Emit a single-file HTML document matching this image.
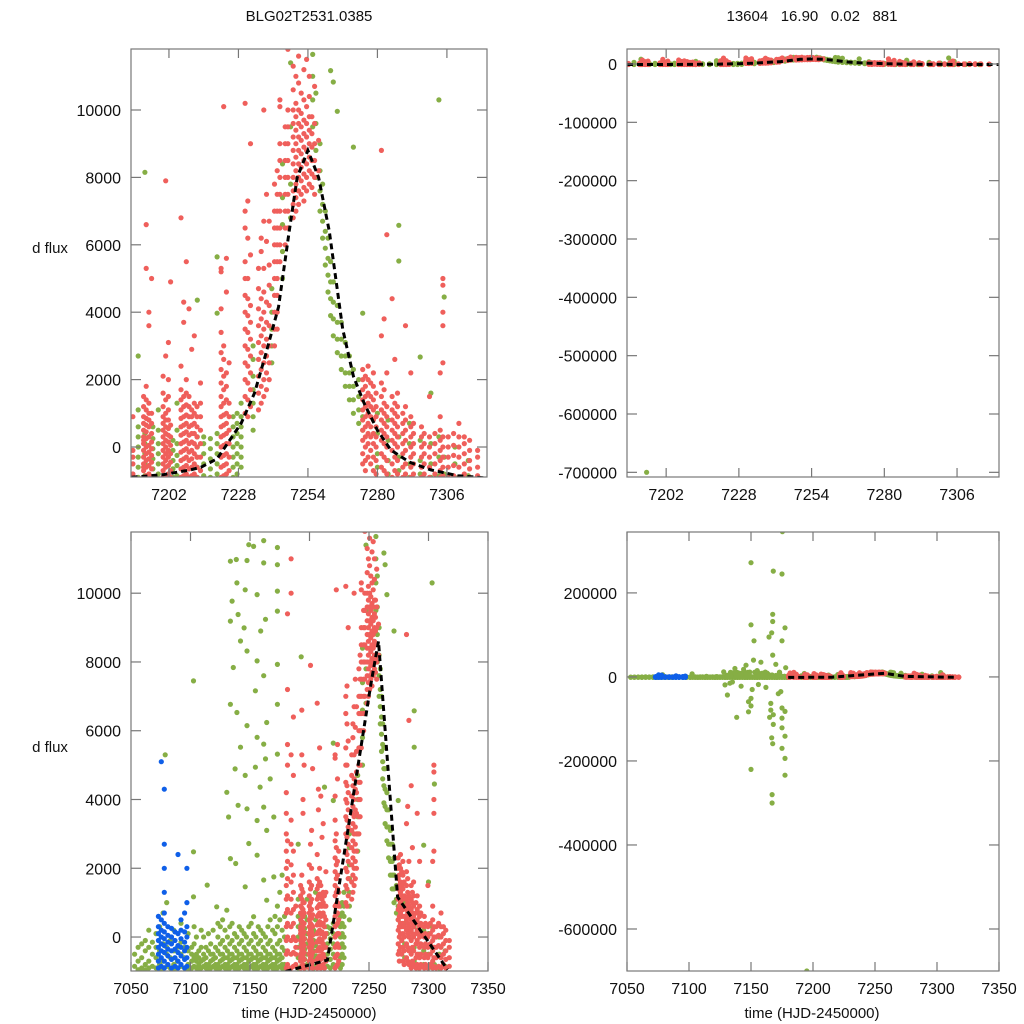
<!DOCTYPE html>
<html><head><meta charset="utf-8"><style>
html,body{margin:0;padding:0;background:#fff;}
svg{display:block;font-family:"Liberation Sans",Arial,sans-serif;}
</style></head><body>
<svg id="chart" width="1024" height="1024" viewBox="0 0 1024 1024" xmlns="http://www.w3.org/2000/svg">
<rect width="1024" height="1024" fill="#fff"/>
<text x="309" y="21" font-size="15" text-anchor="middle" fill="#111">BLG02T2531.0385</text>
<text x="812" y="21" font-size="15" text-anchor="middle" fill="#111" xml:space="preserve">13604   16.90   0.02   881</text>
<text x="50" y="253" font-size="15" text-anchor="middle" fill="#111">d flux</text>
<text x="50" y="752" font-size="15" text-anchor="middle" fill="#111">d flux</text>
<text x="309" y="1018" font-size="15" text-anchor="middle" fill="#111">time (HJD-2450000)</text>
<text x="812" y="1018" font-size="15" text-anchor="middle" fill="#111">time (HJD-2450000)</text>
<g id="panels"></g>
</svg>
<script>
// ---- data (time, flux values per observing night) ----
const redCols = [
[7180.5,-900,-500,-100,300,700,1100,1500,2000,2500,3000,3600,4200],
[7181.5,-800,-400,0,400,800,1200,1700,2200,2800,5000,5600,7200,9400],
[7184.5,-900,-500,-100,300,700,1100,1600,2100,2700,3400,5300,11000,10000],
[7186.5,-850,-450,0,400,800,1300,1800,2500,4700,6400],
[7188.5,-300,900,-100,-500,-800],
[7192.5,-900,-700,-500,-300,-100,100,300,500,700,900,1200,1500,-600,200],
[7193.5,-850,-600,-400,-200,0,250,450,650,850,1100,1400,1800,5300,6600],
[7194.5,-800,-550,-350,-150,50,300,600,800,1000,1300,3600,4000],
[7195.5,-900,-650,-450,-250,-50,150,400,700,1000,5000],
[7199.8,-900,-700,-500,-300,-100,100,300,500,700,900,1200,1600,2100],
[7200.8,-850,-600,-400,-200,0,200,400,600,800,1000,1400,7900,2700],
[7201.8,-800,-550,-300,-100,150,350,550,800,1100,1500,2000,3100],
[7202.6,-900,-700,-450,-200,50,300,650,4900],
[7206.5,-900,-650,-400,-150,100,350,600,850,1100,1400,1700,2400,6800],
[7207.5,-850,-600,-350,-100,150,400,650,900,1200,1500,3700,4300],
[7208.5,-800,-550,-300,-50,200,450,700,950,1250,1600,2000,5500],
[7209.5,-900,-650,-400,-150,100,350,600,900,1200,1500,4100],
[7210.5,-850,-600,-350,-100,150,400,650,900,1100,2900],
[7211.5,-800,-500,-200,100,400,700,1000,1300,3300],
[7212.5,-900,-600,-300,0,300,600,900,1200],
[7213.8,-700,-300,100,500,900,1300,1900],
[7221.5,-900,-600,-300,0,300,600,900,1200,1500,1900,2300,2800,3400,4100,5200,5300],
[7222.5,-850,-550,-250,50,350,650,950,1300,1700,2100,2600,3000,10100],
[7223.5,-800,-500,-200,100,400,700,1000,1400,1800,2200,4600,5600],
[7224.5,-700,-300,100,500,900,1300,2500],
[7230.5,1000,1500,2000,2500,3000,3500,4000,4500,5000,5500,6500,7000,10200],
[7231.5,900,1400,1900,2400,2900,3400,3900,4400,5000,6200,7300],
[7232.5,1200,1700,2200,2700,3200,3700,4200,5700,9000],
[7235.5,1100,1600,2100,2600,3100,3600,4100,4700,5300],
[7236.5,1300,1800,2300,2800,3300,3800,4400,5800,6200],
[7237.5,1500,2000,2500,3000,3500,4000,4600,5300,6700,10000],
[7238.5,1700,2200,2700,3200,3700,4300,6100,7500],
[7239.5,2000,2500,3000,3600,4200,4800,5400,6700],
[7241.5,3000,3500,4000,4500,5000,5500,6000,6500,7000,7800],
[7242.5,3500,4000,4500,5000,5500,6000,6500,7000,7500,8200],
[7243.5,5500,6000,6500,7000,7500,8000,8500,9000,10100,10300],
[7245.5,6000,6500,7000,7500,8000,8500,9000,9500],
[7246.5,6500,7000,7500,8000,8500,9000,9500,10000,11800],
[7248.5,6800,7200,7600,8000,8400,8800,9200,9600,10000,10600,11300],
[7249.5,7000,7400,7800,8200,8600,9000,9400,9800,10200,11000],
[7250.5,7200,7600,8000,8400,8800,9200,9600,10000,10800,11600],
[7251.5,7500,7900,8300,8700,9100,9500,9900,10500],
[7252.5,7300,7700,8100,8500,8900,9300,9700,10300,11200],
[7253.5,7600,8000,8400,8800,9200,9600,10100,11500],
[7254.5,7800,8200,8600,9000,9400,9800,10400,11000],
[7255.5,7700,8100,8500,8900,9300,9800],
[7256.5,7500,8000,8500,9000,9600,10700],
[7258,8200,9100],
[7274.5,200,500,800,1100,1400,1700,2000,2300,-200,-500],
[7275.5,0,300,600,900,1200,1500,1800,2100,-400,-700],
[7276.5,-300,100,400,700,1000,1300,1600,2000,2400],
[7277.5,-500,-100,300,600,900,1200,1500,1900],
[7278.5,-700,-300,100,400,800,1100,1400,1800,2200],
[7279.5,-800,-400,0,300,600,900,1200,1600],
[7281.5,-600,-200,200,500,800,1100,1500,1900,3300,8800],
[7282.5,-700,-300,100,400,700,1000,1300,1700,3800],
[7283.5,-800,-400,0,300,600,900,1200,2200,6300],
[7285.5,-900,-500,-100,200,500,800,1100,1500,4400],
[7286.5,-700,-300,100,400,700,1000,1300,2600],
[7287.5,-800,-400,0,300,600,900,1200,1600],
[7289.5,-900,-600,-200,100,400,700,1000],
[7290.5,-800,-500,-100,200,500,800,1200,3600],
[7292.5,-900,-600,-300,0,300,600,900,2200],
[7293.5,-800,-500,-200,100,400,700],
[7296.5,-900,-600,-300,0,300,600],
[7297.5,-800,-500,-200,100,400],
[7299.5,-900,-600,-300,0,300,1500],
[7301.5,-800,-500,-200,100,400],
[7303.5,-900,-700,-400,-100,200,500,900,2200],
[7304.5,-850,-600,-300,0,300,2500,3600,4000,5000,4800],
[7306.5,-900,-600,-300,0,300],
[7308.5,-850,-550,-250,50,400],
[7310.5,-900,-600,-300,0,300,700],
[7312.5,-800,-500,-200,100,300],
[7314.5,-900,-650,-400,-100,200],
[7317.5,-850,-600,-300,-100]
];
const greenCols = [
[7053,-500,-850],[7056,-300,-700,-950],[7059,-600,-900,-200],[7062,-400,-800,-950,-100],
[7065,-700,-900,-300,200],[7068,-500,-850,-150],[7071,-600,-900,-300,100],[7074,-400,-800,-950,300],
[7077,-700,-900,-200,700],[7080,-500,-850,-300,1000],[7083,-600,-900,-100],[7086,-400,-800,-950,200],
[7089,-700,-900,-300],[7092,-500,-850,-150,400],[7095,-600,-900,-300],[7098,-400,-800,-950,100],
[7101,-700,-900,-300,-500],[7103,-600,-850,-200,300],[7105,-500,-900,-700,0],[7107,-400,-800,-950,-600],
[7109,-700,-900,-300,200],[7111,-500,-850,-650,0],[7113,-600,-900,-300,-800],[7115,-400,-800,-950,100],
[7117,-700,-900,-500,-200],[7119,-500,-850,-650,200],[7121,-600,-900,-300,-800],[7123,-400,-800,-950,0,400],
[7125,-700,-900,-500,-200,300],[7127,-500,-850,-650,-100,500],[7129,-600,-900,-300,-800,200],[7131,-400,-800,-950,-600,0],
[7133,-700,-900,-500,-200,300],[7135,-500,-850,-650,-100,400],[7137,-600,-900,-300,-800,100],[7139,-400,-800,-950,-600,0],
[7141,-700,-900,-500,-200,300],[7143,-500,-850,-650,-100,200],[7145,-600,-900,-300,-800,100],[7147,-400,-800,-950,-600,0],
[7149,-700,-900,-500,-200,300],[7151,-500,-850,-650,-100,400],[7153,-600,-900,-300,-800,100],[7155,-400,-800,-950,-600,0],
[7157,-700,-900,-500,-200,300],[7159,-500,-850,-650,-100,200],[7161,-600,-900,-300,-800,100],[7163,-400,-800,-950,-600,0],
[7165,-700,-900,-500,-200,300],[7167,-500,-850,-650,-100,500],[7169,-600,-900,-300,-800,200],[7171,-400,-800,-950,-600,100,600],
[7173,-700,-900,-500,-200,300,900],[7175,-500,-850,-650,-100,500,1300],[7177,-600,-900,-300,-800,200,1800],[7179,-400,-800,-950,0,600],
[7190.5,-900,-600,-300,0,300,600,1100,2700],[7193,-850,-500,-200,100,400,8150],[7196,-900,-650,-350,-50,250,600],
[7198,-800,-500,-200,100,500,1100],[7203.5,-900,-650,-400,-100,200],[7205,-850,-550,-250,100,500,1300],
[7212.6,-900,-600,-300,0,300,4360],[7215,-850,-500,-200,100,300],[7217.5,-900,-650,-350,-50,250],
[7220,-800,-500,-200,100,400,3970,5640],[7226,-900,-600,-300,0,300,600,900],[7227.5,-800,-500,-200,100,400,700,1000],
[7229,-600,-300,0,300,600,900,1300],[7233.5,500,900,1300,1700,2100,2600,3000],[7240.5,2500,3000,3500,4000,4700],
[7244.5,5000,5800,6600,7400,8400],[7247.5,6800,7800,9500,11400],
[7255.8,9500,10300,11000,11650],[7257,8000,8800,9600,10500],[7258.5,7000,7600,8200,9000],
[7259.5,6200,6700,7200,7800],[7260.5,5400,5900,6400,7000],[7261.5,4600,5100,5600,6200],
[7262.5,3900,4400,4900,5500,11170],[7263.5,3300,3800,4300,4900,10830],[7265,2800,3200,3700,4200,9960],
[7266.5,2300,2700,3200,3700],[7268,1800,2200,2700,3100],[7269.5,1400,1800,2200,2700],
[7271,1000,1400,1800,2300,8900],[7273,700,1100,1500,2000],[7274.5,3970,500,900],
[7280,-600,-200,400,1000],[7284,-800,-400,200,800],[7288,-700,-300,300,5520,6580],
[7292,-900,-500,100,700],[7296,-800,-400,200,2670],[7300,-900,-500,100,1600],
[7303,-850,-300,300,10300],[7305,-800,-300,4450],[7309,-900,-500,0],[7314,-850,-400]
];
const greenOutT = [7133.5,7138.5,7147.5,7149,7153,7161.5,7173,7161.5,7173,7139,7146,7156,7173,7135,7140,7133.5,7145,7159,7163,7173,7142,7147.5,7156,7136,7173,7161.5,7154.5,7133.5,7139,7147.5,7164,7173,7156,7161.5,7142,7163,7173,7137.5,7154.5,7146,7130.5,7167,7158.5,7140,7147.5,7161.5,7132,7156,7170,7164,7133.5,7156,7149,7102.5,7102.5,7078.7,7138,7161.5,7170,7146,7114,7122,7102.5,7130.5,7153,7164,
7175.3,7150,7168,7175,7167.5,7167.5,7150,7177.4,7166.7,7164.5,7152.4,7175,7152,7167.5,7129,7131,7150,7148,7150,7148,7138.5,7166,7166,7165,7168,7168,7175,7177.4,7175,7175,7177.4,7166.7,7167.5,7175,7177.4,7150,7177.4,7167,7167,7195,
7128,7133,7137,7142,7146,7151,7155,7158,7162,7170,7174,7178,7135,7144,7156,7172];
const greenOutF = [10930,10980,10950,11410,11360,11530,11330,10880,10830,10300,10100,9960,10060,9770,9380,9190,8990,8900,9240,9480,8610,8320,8030,7840,7930,7600,7160,6770,6530,6150,6240,6770,5810,5610,5520,5180,5320,4890,4940,4700,4210,4600,4360,3830,3730,3780,3490,3390,3490,3100,2280,2380,2720,7450,2480,5300,2140,1660,1750,1460,1510,880,1170,780,590,1070,
346000,272000,252000,245000,149000,132000,124000,117000,105000,95000,86000,86000,40000,52000,-19000,-43000,-51000,-59000,-69000,-83000,-96000,-63000,-79000,-96000,-90000,-113000,-74000,-82000,-98000,-121000,-141000,-145000,-159000,-170000,-194000,-220000,-234000,-280000,-300000,-700000,
12000,-15000,20000,-22000,28000,-30000,15000,35000,-25000,30000,-35000,22000,-12000,18000,-18000,-40000];
const blueCols = [
[7073,-900,-700,-500,-300,-100,100,300,600],
[7075.5,-850,-600,-400,-200,0,200,500,5100],
[7078,-900,-700,-450,-250,-50,150,400,700,1300,2000,2700,4300],
[7081,-800,-550,-350,-150,50,300],
[7084,-900,-650,-400,-200,0,250],
[7087,-850,-600,-350,-100,150],
[7089.5,-900,-700,-450,-250,100,2400],
[7092,-800,-550,-300,-50,200,500],
[7095,-900,-650,-400,-150,150,700],
[7097,-850,-600,-300,0,300,1000,2000]
];
const modelT = [7188,7200,7210,7214,7220,7229,7234,7238,7243,7247,7250,7254,7258,7262,7267,7271,7275,7280,7285,7292,7300,7310,7321];
const modelF = [-900,-820,-680,-600,-350,700,1600,2700,4150,6400,8000,8800,8000,6400,3500,2100,1300,500,-90,-450,-680,-850,-920];
const coarseT = [7180,7215,7251.6,7258,7274,7316];
const coarseF = [-1000,-670,7360,8600,1160,-950];
const xTicksTop = [7202,7228,7254,7280,7306];
const xTicksBot = [7050,7100,7150,7200,7250,7300,7350];
const yTicksSmall = [0,2000,4000,6000,8000,10000];
const yTicksTR = [0,-100000,-200000,-300000,-400000,-500000,-600000,-700000];
const yTicksBR = [200000,0,-200000,-400000,-600000];

const panels = [
 {name:'top-left',box:[131,49,487,477],x:[7187.8,7321],y:[-890,11810],xt:xTicksTop,yt:yTicksSmall,model:[modelT,modelF]},
 {name:'top-right',box:[627,49,999,477],x:[7188,7321],y:[-708000,25700],xt:xTicksTop,yt:yTicksTR,model:[modelT,modelF]},
 {name:'bottom-left',box:[131,532,488,971],x:[7050,7350],y:[-988,11780],xt:xTicksBot,yt:yTicksSmall,model:[coarseT,coarseF]},
 {name:'bottom-right',box:[627,532,999,971],x:[7050,7350],y:[-700000,345000],xt:xTicksBot,yt:yTicksBR,model:[coarseT,coarseF]}
];
const NS='http://www.w3.org/2000/svg';
const root=document.getElementById('panels');
function mk(tag,attrs,parent){const e=document.createElementNS(NS,tag);for(const k in attrs)e.setAttribute(k,attrs[k]);parent.appendChild(e);return e;}
const COL={red:'#ef5f5b',green:'#86ae45',blue:'#0f5fe8'};
panels.forEach((p,pi)=>{
 const [x0,y0,x1,y1]=p.box;
 const sx=t=>x0+(t-p.x[0])/(p.x[1]-p.x[0])*(x1-x0);
 const sy=f=>y1-(f-p.y[0])/(p.y[1]-p.y[0])*(y1-y0);
 const g=mk('g',{},root);
 
 
 const cp=mk('clipPath',{id:'clip'+pi},g);
 mk('rect',{x:x0,y:y0,width:x1-x0,height:y1-y0},cp);
 const dg=mk('g',{'clip-path':'url(#clip'+pi+')'},g);
 
 
 function drawCols(cols,color,label){
  const sg=mk('g',{fill:color},dg);
  
  
  cols.forEach(c=>{for(let i=1;i<c.length;i++){const cx=sx(c[0]),cy=sy(c[i]);if(cx<x0-4||cx>x1+4||cy<y0-4||cy>y1+4)continue;
   const d=mk('circle',{cx:cx.toFixed(1),cy:cy.toFixed(1),r:2.6},sg);
   
   }});
 }
 drawCols(greenCols,COL.green,'green');
 drawCols(greenOutT.map((t,i)=>[t,greenOutF[i]]),COL.green,'green-outlier');
 drawCols(blueCols,COL.blue,'blue');
 drawCols(redCols,COL.red,'red');
 const [mt,mf]=p.model;
 const pl=mk('polyline',{points:mt.map((t,i)=>sx(t).toFixed(1)+','+sy(mf[i]).toFixed(1)).join(' '),fill:'none',stroke:'#000','stroke-width':3,'stroke-dasharray':'6,4'},dg);
 
 
 const fr=mk('rect',{x:x0,y:y0,width:x1-x0,height:y1-y0,fill:'none',stroke:'#777','stroke-width':1.2},g);
 
 
 p.xt.forEach(t=>{const x=sx(t);
  mk('line',{x1:x,y1:y1,x2:x,y2:y1-9,stroke:'#777','stroke-width':1.2},g);
  mk('line',{x1:x,y1:y0,x2:x,y2:y0+9,stroke:'#777','stroke-width':1.2},g);
  const tx=mk('text',{x:x,y:y1+23,'font-size':16,'text-anchor':'middle',fill:'#111'},g);tx.textContent=t;
  
  });
 p.yt.forEach(f=>{const y=sy(f);
  mk('line',{x1:x0,y1:y,x2:x0+10,y2:y,stroke:'#777','stroke-width':1.2},g);
  mk('line',{x1:x1,y1:y,x2:x1-10,y2:y,stroke:'#777','stroke-width':1.2},g);
  const tx=mk('text',{x:x0-10,y:y+6,'font-size':16,'text-anchor':'end',fill:'#111'},g);tx.textContent=f;
  
  });
});
</script>
</body></html>
